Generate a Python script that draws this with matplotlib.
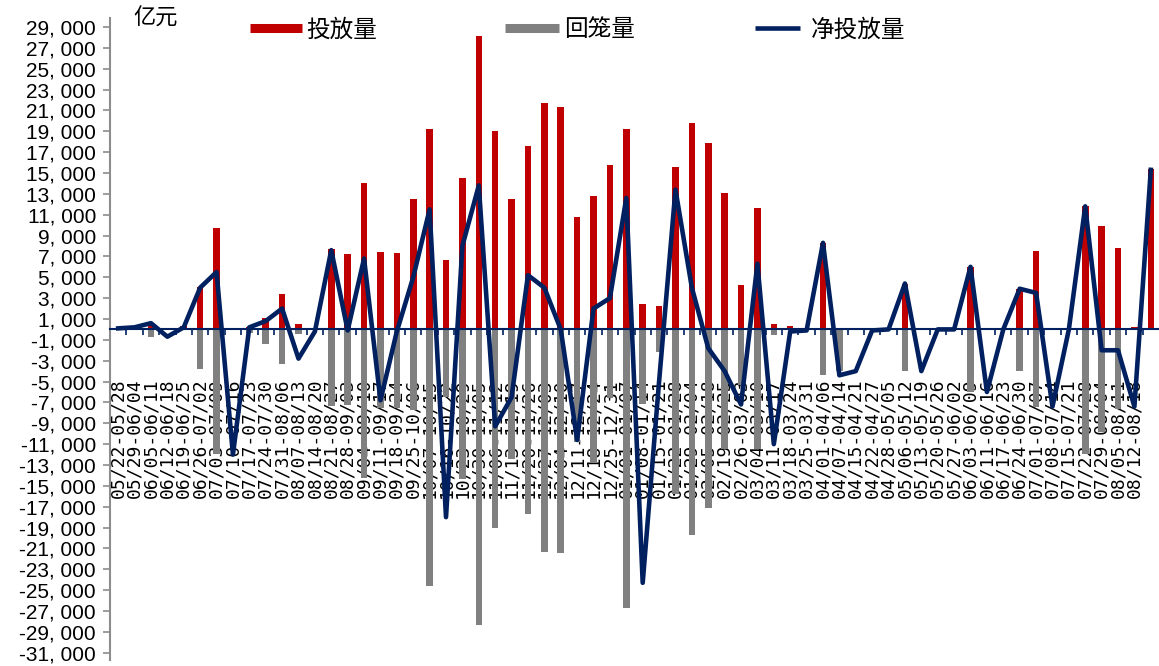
import matplotlib
matplotlib.use('Agg')
import matplotlib.pyplot as plt
from matplotlib.lines import Line2D
from matplotlib.ticker import FixedLocator, FuncFormatter
import numpy as np

plt.rcParams['font.family'] = ['Liberation Sans', 'Noto Sans CJK SC', 'DejaVu Sans']

categories = [
    "05/22-05/28", "05/29-06/04", "06/05-06/11", "06/12-06/18", "06/19-06/25",
    "06/26-07/02", "07/03-07/09", "07/10-07/16", "07/17-07/23", "07/24-07/30",
    "07/31-08/06", "08/07-08/13", "08/14-08/20", "08/21-08/27", "08/28-09/03",
    "09/04-09/10", "09/11-09/17", "09/18-09/24", "09/25-10/06", "10/07-10/15",
    "10/16-10/22", "10/23-10/29", "10/30-11/05", "11/06-11/12", "11/13-11/19",
    "11/20-11/26", "11/27-12/03", "12/04-12/10", "12/11-12/17", "12/18-12/24",
    "12/25-12/31", "01/01-01/07", "01/08-01/14", "01/15-01/21", "01/22-01/28",
    "01/29-02/04", "02/05-02/18", "02/19-02/25", "02/26-03/03", "03/04-03/10",
    "03/11-03/17", "03/18-03/24", "03/25-03/31", "04/01-04/06", "04/07-04/14",
    "04/15-04/21", "04/22-04/27", "04/28-05/05", "05/06-05/12", "05/13-05/19",
    "05/20-05/26", "05/27-06/02", "06/03-06/09", "06/11-06/16", "06/17-06/23",
    "06/24-06/30", "07/01-07/07", "07/08-07/14", "07/15-07/21", "07/22-07/28",
    "07/29-08/04", "08/05-08/11", "08/12-08/18", "",
]

# 投放量 (亿元)
release = [100, 200, 600, 0, 300, 4100, 9700, 150, 200, 1100,
           3400, 500, 0, 7700, 7230, 14070, 7450, 7360, 12500, 19200,
           6650, 14500, 28100, 19000, 12500, 17600, 21700, 21300, 10800, 12800,
           15800, 19200, 2400, 2200, 15600, 19800, 17900, 13100, 4300, 11600,
           500, 300, 0, 8300, 0, 0, 0, 0, 4400, 0,
           0, 0, 6000, 0, 0, 3900, 7500, 0, 0, 11800,
           9900, 7800, 200, 15400]

# 回笼量 (亿元)
withdraw = [0, 0, -700, -100, -100, -3800, -11900, 0, -300, -1400,
            -3300, -400, -100, -7330, -7270, -14250, -7560, -7500, -7700, -24650,
            -6500, -14300, -28300, -19000, -12400, -17700, -21300, -21400, -10800, -12800,
            -6600, -26700, -7200, -2200, -15800, -19700, -17100, -11500, -5300, -11500,
            -500, -100, 0, -4400, -4000, -100, 0, 0, -4000, 0,
            0, 0, -6000, 0, 0, -4000, -7400, 0, 0, -11900,
            -9800, -7600, -100, 0]

# 净投放量 (亿元)
net = [100, 200, 600, -700, 200, 4000, 5500, -12000, 200, 800,
       2000, -2800, -200, 7600, -100, 6800, -6800, -200, 5000, 11500,
       -18000, 8000, 13800, -9300, -6500, 5200, 4000, 0, -10600, 2000,
       3000, 12600, -24300, -5000, 13400, 4000, -1800, -4000, -7200, 6300,
       -11000, -200, -100, 8300, -4400, -4000, -100, 0, 4400, -4000,
       0, 0, 6000, -6000, 0, 3900, 3500, -7400, 0, 11800,
       -2000, -2000, -7400, 15300]

yticks = list(range(-31000, 29001, 2000))
series_names = ['投放量', '回笼量', '净投放量']

RED = '#C00000'
GRAY = '#808080'
NAVY = '#002060'

W, H = 1159, 666
fig = plt.figure(figsize=(W / 100, H / 100), dpi=100)
ax = fig.add_axes([110 / W, 6 / H, 1049 / W, 642 / H])

x = np.arange(len(categories))
ax.bar(x, release, width=0.4, color=RED, zorder=2)
ax.bar(x, withdraw, width=0.4, color=GRAY, zorder=2)
ax.plot(x, net, color=NAVY, lw=3.3, zorder=5, solid_joinstyle='round')

ax.set_xlim(-0.5, len(categories) - 0.5)
ax.set_ylim(-31700, 29860)

for s in ['top', 'right']:
    ax.spines[s].set_visible(False)
ax.spines['left'].set_color('#8c8c8c')
ax.spines['left'].set_linewidth(1.5)
ax.spines['bottom'].set_position(('data', 0))
ax.spines['bottom'].set_color(NAVY)
ax.spines['bottom'].set_linewidth(1.5)
ax.spines['bottom'].set_zorder(4)

ax.yaxis.set_major_locator(FixedLocator(yticks))
ax.yaxis.set_major_formatter(FuncFormatter(lambda v, p: '{:,}'.format(int(v)).replace(',', ', ')))
ax.tick_params(axis='y', length=5, width=1.2, color='#8c8c8c', labelsize=15, pad=5)

ax.xaxis.set_major_locator(FixedLocator(x[:-1] + 0.5))
ax.xaxis.set_major_formatter(FuncFormatter(lambda v, p: ''))
ax.set_xticks(x, categories, minor=True)
ax.tick_params(axis='x', which='major', length=4, width=1.2, color=NAVY, direction='out')
ax.tick_params(axis='x', which='minor', length=0, pad=35, labelsize=13, labelrotation=90)
for lbl in ax.get_xticklabels(minor=True):
    lbl.set_fontfamily('DejaVu Sans Mono')

fig.text(133 / W, 1 - 18 / H, '亿元', fontsize=16, va='center', ha='left',
         family=['Noto Sans CJK SC', 'DejaVu Sans'])

cjk = {'family': ['Noto Sans CJK SC', 'DejaVu Sans'], 'size': 17}
handles = [Line2D([], [], color=RED, lw=6.5, solid_capstyle='butt'),
           Line2D([], [], color=GRAY, lw=6.5, solid_capstyle='butt'),
           Line2D([], [], color=NAVY, lw=3.3, solid_capstyle='butt')]
anchors = [250, 505, 755]
hlens = [2.2, 2.3, 1.9]
hpads = [0.2, 0.2, 0.45]
for h, name, ax_x, hl, hp in zip(handles, series_names, anchors, hlens, hpads):
    fig.legend([h], [name], loc='center left', bbox_to_anchor=(ax_x / W, 1 - 30 / H),
               frameon=False, prop=cjk, handlelength=hl, handletextpad=hp,
               borderpad=0, borderaxespad=0)

fig.savefig('out.png', dpi=100)
